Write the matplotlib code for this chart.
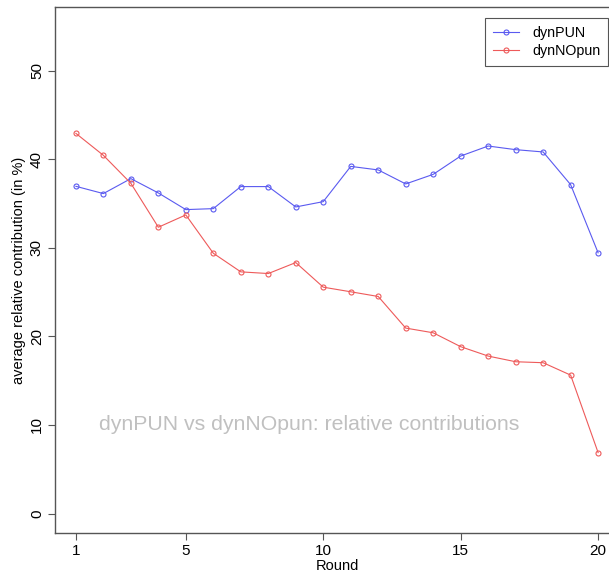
import numpy as np
import matplotlib

matplotlib.use("Agg")
import matplotlib.pyplot as plt

# --- values ---
rounds = np.arange(1, 21)
dyn_pun = [36.95, 36.13, 37.82, 36.2, 34.32, 34.43, 36.92, 36.92, 34.62, 35.22,
           39.2, 38.8, 37.22, 38.3, 40.37, 41.5, 41.09, 40.83, 37.14, 29.44]
dyn_nopun = [42.93, 40.45, 37.29, 32.33, 33.72, 29.39, 27.29, 27.1, 28.34, 25.56,
             25.04, 24.51, 20.94, 20.41, 18.84, 17.78, 17.14, 17.03, 15.63, 6.88]
x_ticks = [1, 5, 10, 15, 20]
y_ticks = [0, 10, 20, 30, 40, 50]

plt.rcParams.update({"font.family": ["Liberation Sans", "DejaVu Sans"], "font.size": 11})
C_BLUE, C_RED, C_AX = "#5a5af0", "#ee5a5a", "#555555"

W, H = 609, 575
fig = plt.figure(figsize=(W / 100, H / 100), dpi=100)
# plot region runs past the right edge, as in the cropped reference
ax = fig.add_axes([55 / W, (H - 533) / H, (619 - 55) / W, (533 - 7) / H])

ax.plot(rounds, dyn_pun, "o-", color=C_BLUE, lw=0.8, ms=3.6, mfc="none", mew=0.8, label="dynPUN")
ax.plot(rounds, dyn_nopun, "o-", color=C_RED, lw=0.8, ms=3.6, mfc="none", mew=0.8, label="dynNOpun")

ax.set_xlim(0.24, 20.76)
ax.set_ylim(-2.2, 57.2)
ax.set_xticks(x_ticks)
ax.set_yticks(y_ticks)
ax.set_yticklabels([str(v) for v in y_ticks], rotation=90, va="center")
ax.tick_params(length=5, width=0.8, color=C_AX, labelsize=11, pad=3)
for s in ax.spines.values():
    s.set_color(C_AX)
    s.set_linewidth(1.0)

ax.set_xlabel("Round", fontsize=10.5, labelpad=1)
ax.set_ylabel("average relative contribution (in %)", fontsize=10.5, labelpad=3)

# faint caption inside the plot, placed in pixel coords
fig.text(309 / W, (H - 424) / H, "dynPUN vs dynNOpun: relative contributions",
         fontsize=15.3, color="#c0c0c0", ha="center", va="center")

leg = fig.legend(loc="upper right", bbox_to_anchor=(608 / W, (H - 18) / H), fancybox=False,
                 edgecolor=C_AX, framealpha=1, fontsize=10.3, handlelength=1.8,
                 borderpad=0.55, labelspacing=0.3, handletextpad=0.9, borderaxespad=0)
leg.get_frame().set_linewidth(0.8)

fig.savefig("out.png", dpi=100)
